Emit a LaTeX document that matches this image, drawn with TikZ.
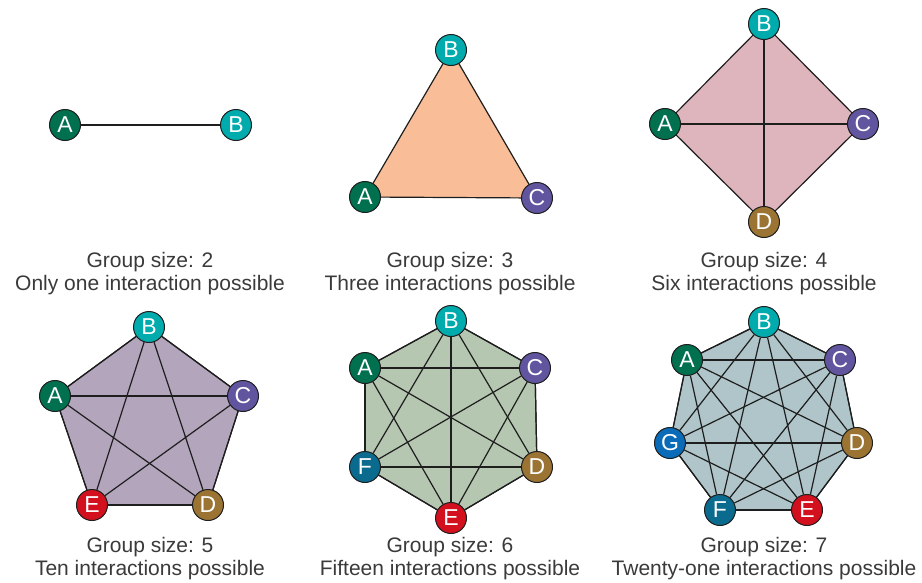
\documentclass[tikz,border=0pt]{standalone}
\usepackage{fontspec}
\setmainfont{Liberation Sans}
\pgfdeclarelayer{background}
\pgfsetlayers{background,main}
\definecolor{cA}{HTML}{00704F}
\definecolor{cB}{HTML}{00ABAD}
\definecolor{cC}{HTML}{62559F}
\definecolor{cD}{HTML}{9B7434}
\definecolor{cE}{HTML}{D3111E}
\definecolor{cF}{HTML}{0B6B8F}
\definecolor{cG}{HTML}{0A6CB8}
\definecolor{ftri}{HTML}{F9BE98}
\definecolor{fsq}{HTML}{DFB5BD}
\definecolor{fpent}{HTML}{B3A5BC}
\definecolor{fhex}{HTML}{B5C6B1}
\definecolor{fhept}{HTML}{B0C5C9}
\definecolor{textgray}{HTML}{3A3A3A}
\definecolor{linec}{HTML}{1E1E1E}
\tikzset{
 vtx/.style={circle,draw=linec,line width=1pt,minimum size=31pt,inner sep=0pt,text=white,font=\fontsize{23}{23}\selectfont},
 link/.style={line width=1.2pt,draw=linec},
 outline/.style={line width=1.2pt,draw=linec,line join=round},
 lbl/.style={align=center,anchor=base,text=textgray,font=\fontsize{21}{23}\selectfont},
}
\begin{document}
\begin{tikzpicture}[x=1pt,y=-1pt]
\useasboundingbox (0,0) rectangle (922,582);
% panel 1
\node[vtx,fill=cA] (a1) at (65,125) {A};
\node[vtx,fill=cB] (b1) at (236,125) {B};
\begin{pgfonlayer}{background}
\draw[link] (a1) -- (b1);
\end{pgfonlayer}
% panel 2
\node[vtx,fill=cA] (a2) at (365,197) {A};
\node[vtx,fill=cB] (b2) at (451,50) {B};
\node[vtx,fill=cC] (c2) at (537,198) {C};
\begin{pgfonlayer}{background}
\filldraw[fill=ftri,outline] (a2.center) -- (b2.center) -- (c2.center) -- cycle;
\end{pgfonlayer}
% panel 3
\node[vtx,fill=cA] (a3) at (665,124) {A};
\node[vtx,fill=cB] (b3) at (764,24) {B};
\node[vtx,fill=cC] (c3) at (863,124) {C};
\node[vtx,fill=cD] (d3) at (764,222) {D};
\begin{pgfonlayer}{background}
\filldraw[fill=fsq,outline] (a3.center) -- (b3.center) -- (c3.center) -- (d3.center) -- cycle;
\draw[link] (a3) -- (c3);
\draw[link] (b3) -- (d3);
\end{pgfonlayer}
% panel 4
\node[vtx,fill=cA] (a4) at (55,396) {A};
\node[vtx,fill=cB] (b4) at (149,327) {B};
\node[vtx,fill=cC] (c4) at (243,396) {C};
\node[vtx,fill=cD] (d4) at (208,505) {D};
\node[vtx,fill=cE] (e4) at (92,505) {E};
\begin{pgfonlayer}{background}
\filldraw[fill=fpent,outline] (a4.center) -- (b4.center) -- (c4.center) -- (d4.center) -- (e4.center) -- cycle;
\foreach \u [count=\i] in {a,b,c,d,e} {
  \foreach \v [count=\j] in {a,b,c,d,e} {
    \ifnum\i<\j \draw[link] (\u4) -- (\v4); \fi
  }
}
\end{pgfonlayer}
% panel 5
\node[vtx,fill=cA] (a5) at (365,368) {A};
\node[vtx,fill=cB] (b5) at (451,321) {B};
\node[vtx,fill=cC] (c5) at (535,368) {C};
\node[vtx,fill=cD] (d5) at (537,467) {D};
\node[vtx,fill=cE] (e5) at (451,518) {E};
\node[vtx,fill=cF] (f5) at (365,467) {F};
\begin{pgfonlayer}{background}
\filldraw[fill=fhex,outline] (a5.center) -- (b5.center) -- (c5.center) -- (d5.center) -- (e5.center) -- (f5.center) -- cycle;
\foreach \u [count=\i] in {a,b,c,d,e,f} {
  \foreach \v [count=\j] in {a,b,c,d,e,f} {
    \ifnum\i<\j \draw[link] (\u5) -- (\v5); \fi
  }
}
\end{pgfonlayer}
% panel 6
\node[vtx,fill=cA] (a6) at (687,360) {A};
\node[vtx,fill=cB] (b6) at (764,322) {B};
\node[vtx,fill=cC] (c6) at (840,360) {C};
\node[vtx,fill=cD] (d6) at (857,443) {D};
\node[vtx,fill=cE] (e6) at (807,510) {E};
\node[vtx,fill=cF] (f6) at (720,510) {F};
\node[vtx,fill=cG] (g6) at (670,443) {G};
\begin{pgfonlayer}{background}
\filldraw[fill=fhept,outline] (a6.center) -- (b6.center) -- (c6.center) -- (d6.center) -- (e6.center) -- (f6.center) -- (g6.center) -- cycle;
\foreach \u [count=\i] in {a,b,c,d,e,f,g} {
  \foreach \v [count=\j] in {a,b,c,d,e,f,g} {
    \ifnum\i<\j \draw[link] (\u6) -- (\v6); \fi
  }
}
\end{pgfonlayer}
% labels
\node[lbl] (l1) at (150,290) {Group size: 2\\Only one interaction possible};
\node[lbl] (l2) at (450,290) {Group size: 3\\Three interactions possible};
\node[lbl] (l3) at (764,290) {Group size: 4\\Six interactions possible};
\node[lbl] (l4) at (150,575) {Group size: 5\\Ten interactions possible};
\node[lbl] (l5) at (450,575) {Group size: 6\\Fifteen interactions possible};
\node[lbl] (l6) at (764,575) {Group size: 7\\Twenty-one interactions possible};
\end{tikzpicture}
\end{document}
